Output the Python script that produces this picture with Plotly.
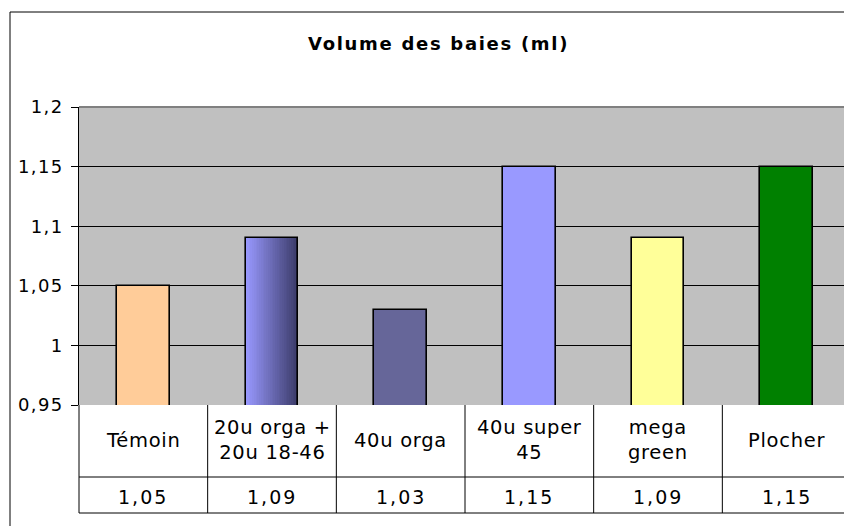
import plotly.graph_objects as go

categories = ["Témoin", "20u orga + 20u 18-46", "40u orga", "40u super 45", "mega green", "Plocher"]
table_labels = ["Témoin", "20u orga +<br>20u 18-46", "40u orga", "40u super<br>45", "mega<br>green", "Plocher"]
values = [1.05, 1.09, 1.03, 1.15, 1.09, 1.15]
value_labels = ["1,05", "1,09", "1,03", "1,15", "1,09", "1,15"]
bar_colors = ["#FFCC99", "#9999FF", "#666699", "#9999FF", "#FFFF99", "#008000"]
tick_vals = [0.95, 1.0, 1.05, 1.1, 1.15, 1.2]
tick_text = ["0,95", "1", "1,05", "1,1", "1,15", "1,2"]

OFF = 8  # default page body margin
W, H = 852 - OFF, 526 - OFF
PL, PR, PT, PB = 79, 851, 107, 405
ML = PL - OFF
MR = W - (PR - OFF)
MT = PT - OFF
MB = H - (PB - OFF)
PW = W - ML - MR
PH = H - MT - MB
FONT = "DejaVu Sans"
BW = 0.41

def py(p):
    return (PB - p) / PH

def px(p):
    return (p - PL) / PW

def sp(text, s):
    return '<span style="letter-spacing:%spx">%s</span>' % (s, text)

fig = go.Figure()

fig.add_trace(go.Bar(x=categories, y=values, width=BW,
                     marker=dict(color=bar_colors, line=dict(width=0)),
                     showlegend=False, hoverinfo="skip"))

n = 30
c0 = (0x99, 0x99, 0xFF)
c1 = (0x3C, 0x3C, 0x6A)
for k in range(n):
    t = k / (n - 1)
    col = "rgb(%d,%d,%d)" % tuple(round(a + (b - a) * t) for a, b in zip(c0, c1))
    fig.add_trace(go.Bar(x=[categories[1]], y=[values[1]], width=BW / n * 1.05,
                         offset=-BW / 2 + k * BW / n,
                         marker=dict(color=col, line=dict(width=0)),
                         showlegend=False, hoverinfo="skip"))

fig.add_trace(go.Bar(x=categories, y=values, width=BW,
                     marker=dict(color="rgba(0,0,0,0)", line=dict(color="black", width=1.6)),
                     showlegend=False, hoverinfo="skip"))

shapes = []
shapes.append(dict(type="rect", xref="paper", yref="paper", x0=px(10), x1=1.2, y0=-2, y1=py(12),
                   line=dict(color="black", width=1), layer="below"))
shapes.append(dict(type="line", xref="paper", yref="paper", x0=0, x1=1, y0=1, y1=1,
                   line=dict(color="#808080", width=2)))
shapes.append(dict(type="line", xref="paper", yref="paper", x0=1, x1=1, y0=0, y1=1,
                   line=dict(color="#808080", width=2)))
row1 = py(477)
row2 = py(513)
shapes.append(dict(type="line", xref="paper", yref="paper", x0=0, x1=1, y0=row1, y1=row1,
                   line=dict(color="black", width=1)))
shapes.append(dict(type="line", xref="paper", yref="paper", x0=0, x1=1, y0=row2, y1=row2,
                   line=dict(color="black", width=1)))
shapes.append(dict(type="line", xref="paper", yref="paper", x0=0, x1=0, y0=row2, y1=0,
                   line=dict(color="black", width=1)))
shapes.append(dict(type="line", xref="paper", yref="paper", x0=1, x1=1, y0=row2, y1=0,
                   line=dict(color="black", width=1)))
for i in range(len(categories) - 1):
    shapes.append(dict(type="line", xref="x", yref="paper", x0=i + 0.5, x1=i + 0.5, y0=row2, y1=0,
                       line=dict(color="black", width=1)))

annotations = []
for i, (lab, vl) in enumerate(zip(table_labels, value_labels)):
    annotations.append(dict(x=i, y=py(440), xref="x", yref="paper", text=sp(lab, 0.7),
                            showarrow=False, font=dict(family=FONT, size=19.5, color="black"),
                            xanchor="center", yanchor="middle"))
    annotations.append(dict(x=i, y=py(497), xref="x", yref="paper", text=sp(vl, 2),
                            showarrow=False, font=dict(family=FONT, size=19, color="black"),
                            xanchor="center", yanchor="middle"))
annotations.append(dict(x=px(438), y=py(43), xref="paper", yref="paper",
                        text="<b>" + sp("Volume des baies (ml)", 1.7) + "</b>", showarrow=False,
                        font=dict(family=FONT, size=18, color="black"),
                        xanchor="center", yanchor="middle"))

fig.update_layout(
    width=W, height=H,
    margin=dict(l=ML, r=MR, t=MT, b=MB, pad=0),
    paper_bgcolor="white", plot_bgcolor="#C0C0C0",
    barmode="overlay", bargap=0,
    shapes=shapes, annotations=annotations,
    font=dict(family=FONT, size=17, color="black"),
    xaxis=dict(type="category", range=[-0.5, 5.5], showticklabels=False, showgrid=False,
               zeroline=False, showline=False, ticks="", fixedrange=True),
    yaxis=dict(range=[0.95, 1.2], tickvals=tick_vals, ticktext=[sp(t, 1.3) for t in tick_text],
               showgrid=True, gridcolor="black", gridwidth=1, zeroline=False,
               showline=True, linecolor="black", linewidth=1,
               ticks="outside", ticklen=7, tickcolor="black", tickwidth=1,
               tickfont=dict(family=FONT, size=18, color="black"), ticklabelstandoff=4),
)

fig.write_html("out.html")
